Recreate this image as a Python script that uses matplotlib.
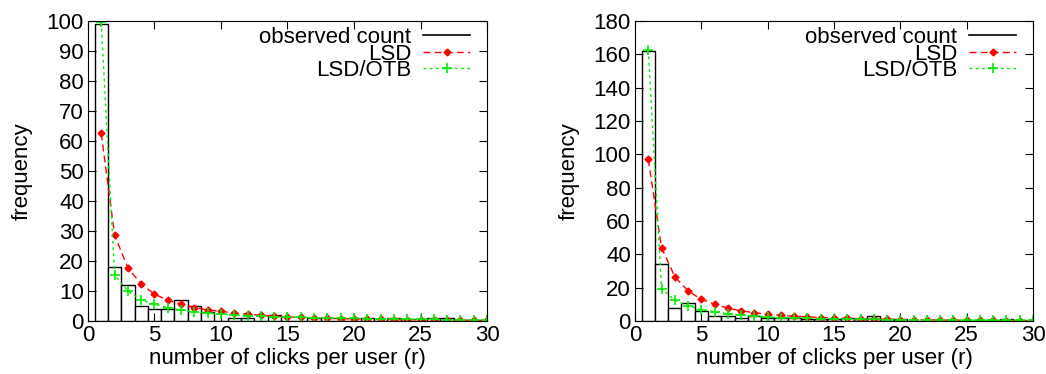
import numpy as np
import matplotlib
matplotlib.use("Agg")
import matplotlib.pyplot as plt

plt.rcParams["font.family"] = ["Liberation Sans", "DejaVu Sans"]
plt.rcParams["font.size"] = 16

# clicks per user r = 1..30
r = np.arange(1, 31)

# left panel
obs_left = [99, 18, 12, 5, 4, 4, 7, 5, 3, 0, 1, 1, 0, 2, 0, 0, 1, 0, 0, 0,
            1, 0, 1, 0, 0, 1, 1, 0, 0, 0]
lsd_left = [62.5, 28.7, 17.7, 12.3, 9.0, 6.9, 5.6, 4.5, 3.7, 3.2, 2.7, 2.3, 1.9, 1.6, 1.4,
            1.2, 1.05, 0.9, 0.8, 0.7, 0.6, 0.55, 0.5, 0.45, 0.4, 0.35, 0.3, 0.3, 0.25, 0.2]
otb_left = [99.5, 15.3, 10.0, 7.0, 5.6, 4.5, 3.6, 3.1, 2.6, 2.3, 2.0, 1.8, 1.6, 1.4, 1.3,
            1.2, 1.1, 1.0, 0.9, 0.85, 0.8, 0.75, 0.7, 0.65, 0.6, 0.55, 0.5, 0.5, 0.45, 0.4]

# right panel
obs_right = [162, 34, 8, 11, 6, 3, 3, 2, 3, 2, 2, 2, 1, 1, 1, 2, 1, 3, 1, 1,
             0, 0, 0, 0, 0, 0, 0, 1, 0, 0]
lsd_right = [97, 44, 26.6, 18, 13, 10.1, 7.7, 6.1, 5.0, 4.0, 3.4, 2.9, 2.5, 2.1, 1.8,
             1.6, 1.4, 1.2, 1.0, 0.9, 0.8, 0.7, 0.6, 0.5, 0.45, 0.4, 0.35, 0.3, 0.3, 0.25]
otb_right = [162.4, 19.4, 12.4, 9.2, 6.8, 5.6, 4.4, 3.6, 2.8, 2.4, 2.1, 1.9, 1.7, 1.5, 1.35,
             1.2, 1.1, 1.0, 0.9, 0.8, 0.75, 0.7, 0.65, 0.6, 0.55, 0.5, 0.45, 0.4, 0.4, 0.35]

panels = [
    (obs_left, lsd_left, otb_left, 100, 10, [0.0841, 0.1417, 0.3815, 0.8022]),
    (obs_right, lsd_right, otb_right, 180, 20, [0.6071, 0.1417, 0.3805, 0.8022]),
]

fig = plt.figure(figsize=(10.46, 3.74), dpi=100)

for obs, lsd, otb, ymax, ystep, rect in panels:
    ax = fig.add_axes(rect)
    ax.bar(r, obs, width=1.0, color="white", edgecolor="black", linewidth=1.0)
    ax.plot([], [], color="black", lw=1.2, label="observed count")
    ax.plot(r, lsd, color="red", ls=(0, (5, 3)), lw=1.0, marker="D", ms=3.5,
            label="LSD")
    ax.plot(r, otb, color="#00ee00", ls=(0, (2, 2.5)), lw=1.0, marker="+", ms=7,
            mew=1.2, label="LSD/OTB")
    ax.set_xlim(0, 30)
    ax.set_ylim(0, ymax)
    ax.set_xticks(range(0, 31, 5))
    ax.set_yticks(range(0, ymax + 1, ystep))
    ax.tick_params(direction="in", length=6, top=True, right=True, pad=3)
    ax.set_xlabel("number of clicks per user (r)", labelpad=1)
    ax.set_ylabel("frequency", labelpad=10)
    ax.legend(loc="upper right", frameon=False, markerfirst=False,
              labelspacing=-0.2, handlelength=2.1, handletextpad=0.55,
              borderaxespad=0.1, bbox_to_anchor=(0.985, 1.017))

fig.savefig("out.png", dpi=100)
